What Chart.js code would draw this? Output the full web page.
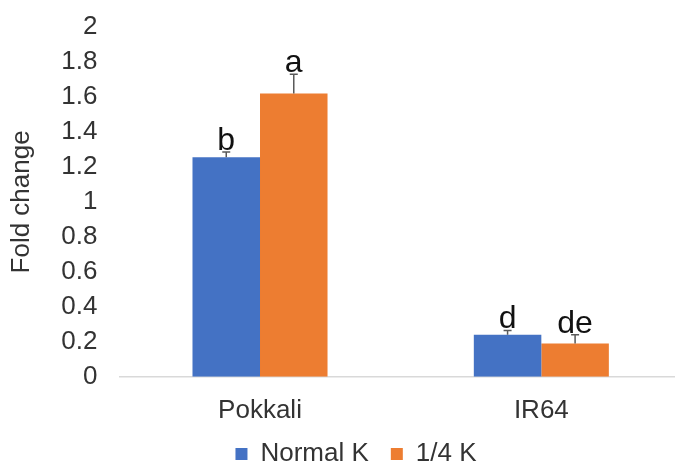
<!DOCTYPE html>
<html>
<head>
<meta charset="utf-8">
<script src="https://cdn.jsdelivr.net/npm/chart.js@4"></script>
<style>
  html, body { margin: 0; padding: 0; background: #fff; }
  #wrap { width: 675px; height: 462px; }
</style>
</head>
<body>
<div id="wrap"><canvas id="myChart"></canvas></div>
<script>
// data
const categories = ['Pokkali', 'IR64'];
const normalK = [1.255, 0.24];
const quarterK = [1.62, 0.19];
const normalErr = [0.03, 0.025];
const quarterErr = [0.11, 0.05];
const normalLetters = ['b', 'd'];
const quarterLetters = ['a', 'de'];
const yTicks = [0, 0.2, 0.4, 0.6, 0.8, 1, 1.2, 1.4, 1.6, 1.8, 2];

const errors = [normalErr, quarterErr];
const letters = [normalLetters, quarterLetters];
const FONT = '"Liberation Sans", Arial, sans-serif';

// error bars (plus side only) and significance letters
const errorBarPlugin = {
  id: 'errorBars',
  afterDatasetsDraw(chart) {
    const ctx = chart.ctx;
    const y = chart.scales.y;
    chart.data.datasets.forEach(function (ds, di) {
      const meta = chart.getDatasetMeta(di);
      meta.data.forEach(function (bar, i) {
        const top = y.getPixelForValue(ds.data[i] + errors[di][i]);
        ctx.save();
        ctx.strokeStyle = '#595959';
        ctx.lineWidth = 1.5;
        ctx.beginPath();
        ctx.moveTo(bar.x, bar.y);
        ctx.lineTo(bar.x, top);
        ctx.moveTo(bar.x - 4, top);
        ctx.lineTo(bar.x + 4, top);
        ctx.stroke();
        ctx.fillStyle = '#111';
        ctx.font = '32px ' + FONT;
        ctx.textAlign = 'center';
        ctx.textBaseline = 'alphabetic';
        ctx.fillText(letters[di][i], bar.x, top - 2);
        ctx.restore();
      });
    });
  }
};

// legend sits a bit right of the canvas centre in the original,
// and the plot area runs slightly past the right edge
const layoutTweakPlugin = {
  id: 'layoutTweak',
  afterLayout(chart) {
    if (chart.legend) {
      chart.legend.left += 12;
      chart.legend.right += 12;
    }
    const x = chart.scales.x;
    x.right += 7;
    x.width += 7;
    x.configure();
    chart.chartArea.right += 7;
    chart.chartArea.width += 7;
  }
};

const data = {
  labels: categories,
  datasets: [{
    label: 'Normal K',
    data: normalK,
    backgroundColor: '#4472C4'
  }, {
    label: '1/4 K',
    data: quarterK,
    backgroundColor: '#ED7D31'
  }]
};

const config = {
  type: 'bar',
  data: data,
  options: {
    responsive: true,
    maintainAspectRatio: false,
    animation: false,
    layout: { padding: { top: 0, left: 6, right: -7, bottom: -15 } },
    datasets: {
      bar: { categoryPercentage: 0.48, barPercentage: 1 }
    },
    plugins: {
      legend: {
        position: 'bottom',
        labels: {
          boxWidth: 12,
          boxHeight: 12,
          padding: 22,
          color: '#333',
          font: { size: 26, family: FONT }
        }
      },
      tooltip: { enabled: false }
    },
    scales: {
      x: {
        grid: { display: false },
        border: { display: true, color: '#d9d9d9', width: 1.5 },
        ticks: {
          color: '#333',
          padding: 10,
          font: { size: 26, family: FONT }
        },
        // pull the legend closer to the category labels (and don't clip them)
        afterFit: function (scale) {
          scale.height -= 17;
          scale._computeLabelArea = function () { return undefined; };
        }
      },
      y: {
        min: 0,
        max: 2,
        afterBuildTicks: function (axis) {
          axis.ticks = yTicks.map(function (v) { return { value: v }; });
        },
        afterFit: function (scale) {
          scale.paddingTop = 27;
          scale.paddingBottom = 0;
        },
        grid: { display: false },
        border: { display: false },
        ticks: {
          color: '#333',
          padding: 14,
          autoSkip: false,
          font: { size: 26, family: FONT },
          callback: function (v) { return String(v); }
        },
        title: {
          display: true,
          text: 'Fold change',
          color: '#333',
          padding: { top: 0, bottom: 10 },
          font: { size: 26, family: FONT }
        }
      }
    }
  },
  plugins: [errorBarPlugin, layoutTweakPlugin]
};

var ctx = document.getElementById('myChart').getContext('2d');
var myChart = new Chart(ctx, config);
</script>
</body>
</html>
